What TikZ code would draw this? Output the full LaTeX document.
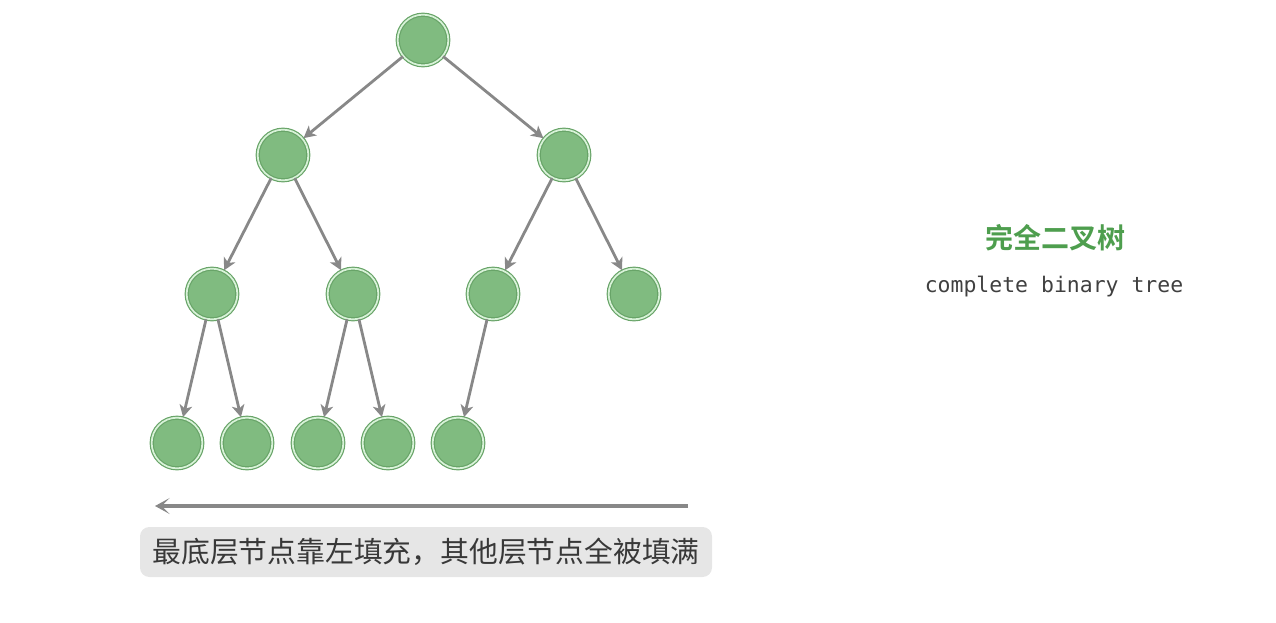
\documentclass[tikz,border=0pt]{standalone}
\usepackage{fontspec}
\setmonofont{DejaVu Sans Mono}
\newfontfamily\cjk{Noto Sans CJK SC}
\newfontfamily\cjkbold{Noto Sans CJK SC Bold}
\usepackage{xcolor}
\usetikzlibrary{arrows.meta, positioning}

\definecolor{treefill}{HTML}{80BB80}
\definecolor{treeline}{HTML}{68A468}
\definecolor{treering}{HTML}{D8F2D8}
\definecolor{edgegray}{HTML}{888888}
\definecolor{titlegreen}{HTML}{4E9E4E}
\definecolor{notegray}{HTML}{E6E6E6}

\begin{document}
\begin{tikzpicture}[
    x=0.75pt, y=-0.75pt,
    treenode/.style={circle, fill=treefill, draw=treeline, double=treering, double distance=1.3pt, line width=0.9pt, minimum size=38pt, inner sep=0pt},
    edge/.style={-{Stealth[length=9pt, width=9.5pt, inset=2.5pt]}, draw=edgegray, line width=2.1pt, shorten >=0.5pt},
    note/.style={rectangle, rounded corners=7pt, fill=notegray, minimum width=429pt, minimum height=37.5pt, align=center, font=\cjk\fontsize{21.6pt}{24pt}\selectfont, text=black!78}
]
    \useasboundingbox (0,0) rectangle (1276,622);

    % root and first level
    \node[treenode] (n0) at (423,40) {};
    \node[treenode] (n1) at (283,155) {};
    \node[treenode] (n2) at (564,155) {};

    % second level
    \node[treenode] (n3) at (212,294) {};
    \node[treenode] (n4) at (353,294) {};
    \node[treenode] (n5) at (493,294) {};
    \node[treenode] (n6) at (634,294) {};

    % bottom level, filled from the left
    \node[treenode] (n7) at (177,443) {};
    \node[treenode] (n8) at (247,443) {};
    \node[treenode] (n9) at (318,443) {};
    \node[treenode] (n10) at (388,443) {};
    \node[treenode] (n11) at (458,443) {};

    \draw[edge] (n0) -- (n1);
    \draw[edge] (n0) -- (n2);
    \draw[edge] (n1) -- (n3);
    \draw[edge] (n1) -- (n4);
    \draw[edge] (n2) -- (n5);
    \draw[edge] (n2) -- (n6);
    \draw[edge] (n3) -- (n7);
    \draw[edge] (n3) -- (n8);
    \draw[edge] (n4) -- (n9);
    \draw[edge] (n4) -- (n10);
    \draw[edge] (n5) -- (n11);

    % fill direction
    \coordinate (fillstart) at (688,506);
    \coordinate (fillend) at (155,506);
    \draw[edge, -{Stealth[length=11pt, width=12pt, inset=6pt]}, line width=2.6pt, shorten >=0pt] (fillstart) -- (fillend);
    \node[note] (fillnote) at (426,552) {最底层节点靠左填充，其他层节点全被填满};

    % title
    \node[font=\cjkbold\fontsize{21pt}{24pt}\selectfont, text=titlegreen] (title) at (1055,238) {完全二叉树};
    \node[font=\ttfamily\fontsize{16.1pt}{18pt}\selectfont, text=black!75] (subtitle) at (1054,287) {complete binary tree};
\end{tikzpicture}
\end{document}
